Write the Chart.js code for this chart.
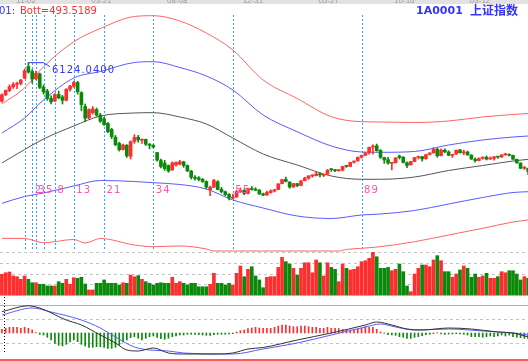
<!DOCTYPE html>
<html><head><meta charset="utf-8">
<script src="https://cdn.jsdelivr.net/npm/chart.js@4.4.1/dist/chart.umd.min.js"></script>
<style>
html,body{margin:0;padding:0;background:#fff;}
#wrap{position:relative;width:528px;height:361px;overflow:hidden;background:#fff;}
#wrap canvas{position:absolute;left:0;}
</style></head>
<body><div id="wrap">
<canvas id="cMain" width="528" height="253" style="top:0"></canvas>
<canvas id="cVol" width="528" height="44" style="top:252px"></canvas>
<canvas id="cMacd" width="528" height="65" style="top:296px"></canvas>
</div>
<script>
// ---------- DATA (weekly bars) ----------
const tickIdx    = [9, 29, 49, 69, 89, 109, 129];
const tickLabels = ['11-02','03-21','08-08','12-31','05-27','10-16','03-12'];

const open = [4870,5080,5220,5340,5420,5450,5620,6000,5840,5600, 5760,5330,5200,4960,4880,5090,5010,4900,5260,5360,
 5480,5150,4700,4330,4500,4600,4420,4300,4150,3950, 3700,3500,3300,3440,3080,3560,3700,3600,3630,3470,
 3430,3200,2940,2860,2780,2640,2800,2830,2900,2780, 2600,2400,2380,2330,2260,1990,2080,2250,2010,1930,
 1840,1720,1760,1930,1970,1870,2030,2000,1980,1860, 1820,1900,1950,2000,2190,2330,2240,2080,2190,2130,
 2290,2370,2440,2450,2510,2460,2500,2660,2640,2610, 2630,2770,2750,2890,2930,3050,3110,3190,3380,3420,
 3270,3040,2970,2850,2870,3090,3050,2870,2800,2910, 3040,3070,3000,3140,3190,3310,3100,3280,3220,3110,
 3150,3290,3190,3220,3120,2980,2940,3020,3050,2990, 3010,3070,3060,3130,3140,3110,2980,2860,2690,2690];
const high = [5110,5240,5400,5480,5490,5580,5920,6124,5900,5850, 5790,5400,5260,5050,5120,5200,5060,5280,5390,5520,
 5520,5180,4780,4620,4700,4650,4480,4350,4180,3990, 3760,3540,3480,3460,3580,3786,3760,3650,3640,3500,
 3470,3210,2990,2950,2800,2900,2900,2950,2920,2800, 2620,2450,2420,2360,2280,2110,2330,2290,2070,1950,
 1870,1850,1980,2050,2000,2050,2100,2060,2000,1880, 1950,1990,2010,2190,2330,2402,2260,2200,2200,2290,
 2400,2450,2480,2580,2540,2490,2650,2680,2660,2650, 2760,2790,2890,2930,3060,3120,3200,3380,3455,3478,
 3300,3050,3050,2870,3040,3120,3070,2900,2915,3040, 3090,3080,3140,3200,3360,3339,3320,3320,3260,3150,
 3280,3300,3280,3250,3130,3030,3020,3060,3090,3060, 3070,3080,3130,3180,3160,3120,2990,2870,2750,2700];
const low = [4840,5050,5180,5290,5280,5400,5600,5780,5460,5560, 5280,5100,4900,4780,4860,4950,4780,4880,5200,5320,
 5100,4560,4200,4300,4450,4380,4180,4080,3850,3650, 3420,3250,3280,3040,2990,3500,3540,3500,3430,3320,
 3350,2920,2700,2620,2560,2620,2760,2800,2720,2580, 2340,2300,2280,2230,2020,1802,2060,1990,1890,1800,
 1664,1700,1740,1900,1830,1860,1980,1960,1840,1800, 1810,1880,1920,1990,2180,2250,2037,2070,2090,2120,
 2280,2330,2400,2440,2410,2420,2490,2590,2580,2600, 2600,2720,2740,2860,2920,3020,3100,3150,3150,3250,
 3010,2850,2820,2640,2860,2990,2860,2710,2800,2900, 2990,2920,2990,3120,3180,3050,3090,3200,3100,3040,
 3140,3180,3130,3110,2980,2890,2930,2980,2960,2980, 2950,3010,3040,3110,3090,2980,2850,2680,2650,2480];
const close = [5080,5220,5340,5420,5450,5560,5860,5820,5590,5780, 5320,5180,4960,4850,5090,4980,4900,5260,5360,5480,
 5180,4760,4320,4600,4620,4420,4220,4110,3880,3720, 3460,3290,3450,3094,3557,3693,3613,3626,3474,3433,
 3379,2957,2748,2680,2600,2860,2880,2900,2780,2605, 2400,2360,2330,2260,2080,2075,2293,2000,1931,1839,
 1728,1747,1930,1970,1871,2030,2001,1977,1855,1820, 1904,1954,1990,2181,2320,2262,2082,2193,2128,2281,
 2374,2444,2450,2508,2477,2480,2626,2644,2614,2632, 2751,2749,2880,2921,3045,3113,3189,3372,3412,3260,
 3046,2960,2860,2861,3026,3040,2880,2779,2911,3040, 3070,2995,3135,3187,3308,3096,3280,3225,3113,3140,
 3277,3196,3224,3128,2990,2939,3018,3051,2988,3013, 3068,3053,3128,3132,3110,2983,2870,2688,2700,2584];

// Bollinger-type bands, read at these bar positions
const bandIdx   = [0,6,11,19,26,35,40,47,54,61,69,78,87,95,100,109,118,127,135,139];
const upperRed  = [4780,5301,5994,6806,7236,7626,7652,7480,7089,6537,5561,4959,4367,4205,4195,4179,4228,4358,4439,4472];
const upperBlue = [3837,4325,4911,5626,5837,6130,6156,5967,5691,5236,4423,3880,3415,3219,3210,3236,3447,3610,3707,3740];
const midLine   = [2862,3300,3642,4065,4390,4488,4498,4358,4130,3675,3154,2797,2439,2332,2332,2406,2618,2780,2927,2982];
const lowerBlue = [1551,1772,1886,2114,2293,2260,2221,2163,2016,1659,1398,1138,1057,1171,1203,1317,1528,1740,1902,1928];
const lowRedIdx = [0,6,11,19,22,26,35,40,47,54,56,70,89,91,95,100,109,118,127,135,139];
const lowerRed  = [413,407,270,374,260,407,195,140,163,65,0,0,0,49,88,140,302,520,738,943,1008];

// Fibonacci time zones
const fibIdx      = [6,8,9,11,14,19,27,40,61,95];
const fibLabelIdx = [8,9,11,14,19,27,40,61,95];
const fibLabels   = ['2','3','5','8','13','21','34','55','89'];
const FIB_TOP = 7675, FIB_LABEL_Y = 1984;

// peak marker
const peakIdx = [7, 11, 12.7];
const peakVal = [6124, 6124, 5994];
const peakText = '6124.0400';

// volume
const vol = [1.93,2.07,2.14,1.77,1.70,1.46,1.77,1.46,1.14,1.14, 1.0,1.0,0.84,0.84,0.84,1.24,1.09,1.46,1.0,1.61,
 1.55,1.65,1.02,0.47,0.47,1.09,1.09,1.4,1.09,1.09, 1.09,0.93,1.14,1.09,1.86,1.7,1.8,1.46,1.24,1.09,
 0.93,1.09,1.14,1.09,1.09,1.65,1.09,1.24,1.09,0.93, 1.09,1.09,0.77,0.77,0.77,1.0,2.02,1.09,1.09,0.93,
 1.09,0.93,2.02,2.7,1.7,2.39,2.63,1.77,1.4,0.68, 1.65,1.71,1.71,2.57,3.5,3.1,2.88,2.48,1.86,2.48,
 3.0,3.0,2.07,3.26,3.0,1.77,3.0,2.57,2.39,1.24, 2.88,2.48,2.33,2.39,2.63,3.1,3.19,3.41,3.97,3.56,
 2.48,2.48,2.57,2.26,2.39,2.88,2.17,0.84,0.31,1.95, 2.48,2.79,2.79,2.63,3.26,3.66,3.19,2.17,2.17,1.65,
 1.95,2.33,2.7,2.48,1.65,1.95,1.65,1.77,2.02,1.55, 1.55,1.71,2.17,2.07,2.26,2.26,1.95,1.4,1.71,1.55];
const volGrid = [1,2,3,4];

// MACD
const hist = [0.37,0.47,0.57,0.57,0.57,0.47,0.57,0.47,0.3,0.03, -0.13,-0.2,-0.43,-0.7,-1.03,-1.23,-1.3,-1.13,-0.9,-0.7,
 -0.87,-1.13,-1.3,-1.43,-1.43,-1.37,-1.37,-1.43,-1.53,-1.53, -1.43,-1.23,-0.9,-0.7,-0.47,-0.37,-0.53,-0.7,-0.53,-0.37,
 -0.3,-0.43,-0.57,-0.63,-0.53,-0.37,-0.3,-0.2,-0.2,-0.13, -0.13,-0.13,-0.17,-0.2,-0.23,-0.23,-0.17,-0.13,-0.13,-0.13,
 -0.1,-0.07,0.1,0.23,0.3,0.43,0.5,0.57,0.5,0.47, 0.47,0.47,0.57,0.7,0.8,0.8,0.7,0.63,0.63,0.7,
 0.7,0.63,0.57,0.57,0.47,0.47,0.57,0.47,0.47,0.43, 0.37,0.3,0.3,0.3,0.37,0.47,0.63,0.57,0.57,0.37,
 0.1,-0.03,-0.17,-0.2,-0.23,-0.37,-0.43,-0.53,-0.53,-0.43, -0.37,-0.27,-0.17,-0.13,-0.07,0.03,-0.1,-0.13,-0.1,-0.1,
 -0.07,-0.1,-0.13,-0.2,-0.37,-0.37,-0.37,-0.43,-0.37,-0.3, -0.37,-0.3,-0.2,-0.3,-0.2,-0.37,-0.43,-0.47,-0.53,-0.6];
const difIdx = [0,7,10,17,21,26,30,33,36,40,44,48,57,61,65,69,78,87,96,99,103,107,111,118,124,131,135,139];
const difVal = [2.13,2.73,2.5,1.3,0.8,-0.2,-1.0,-1.7,-1.8,-1.5,-2.0,-2.1,-2.1,-2.0,-1.6,-1.45,-0.7,0,0.8,1.1,0.8,0.4,0.3,0.5,0.4,0.1,0,-0.4];
const deaIdx = [0,8,13,21,26,30,35,39,44,48,61,69,78,87,96,100,104,109,118,127,135,139];
const deaVal = [1.8,2.5,2.1,1.3,0.5,-0.4,-1.4,-1.7,-1.8,-2.0,-2.1,-1.6,-1.0,-0.2,0.6,0.9,0.6,0.3,0.4,0.2,0,-0.2];
const macdGrid = [1.4, -1.0];
const cursorIdx = 0.55;
const CURSOR_TOP = 3.6, CURSOR_BOTTOM = -2.03;

// ---------- STYLE ----------
const RED = '#ff2e2e', GREEN = '#0a8a0a';
const BAND_RED = '#ff6464', BAND_BLUE = '#5a5aff', MID = '#555555';
const FIB_BLUE = '#3aa0ff', FIB_PINK = '#ff55b0', TXT_BLUE = '#3434ff';
const STEP = 3.786;
const XMIN = -0.5, XMAX = -0.5 + 528 / STEP;
const idx = open.map((_, i) => i);
const upCol = c => (c.dataIndex === undefined ? RED : (close[c.dataIndex] >= open[c.dataIndex] ? RED : GREEN));

function opts(ymin, ymax, pad) {
  return {
    responsive: false, animation: false, events: [],
    layout: { padding: pad },
    plugins: { legend: { display: false }, tooltip: { enabled: false } },
    scales: {
      x: { type: 'linear', min: XMIN, max: XMAX, display: false, offset: false },
      y: { type: 'linear', min: ymin, max: ymax, display: false }
    }
  };
}
function lineDs(ix, vals, color, order, extra) {
  return Object.assign({ type: 'line', data: ix.map((i, k) => ({ x: i, y: vals[k] })),
    borderColor: color, borderWidth: 1, pointRadius: 0, cubicInterpolationMode: 'monotone',
    fill: false, order: order, clip: 3 }, extra || {});
}
function hline(ctx, y, w, color, dash) {
  ctx.save(); ctx.strokeStyle = color; ctx.lineWidth = 1; ctx.setLineDash(dash || []);
  ctx.beginPath(); ctx.moveTo(0, y); ctx.lineTo(w, y); ctx.stroke(); ctx.restore();
}
function vline(ctx, x, y0, y1, color, dash) {
  ctx.save(); ctx.strokeStyle = color; ctx.lineWidth = 1; ctx.setLineDash(dash || []);
  ctx.beginPath(); ctx.moveTo(x, y0); ctx.lineTo(x, y1); ctx.stroke(); ctx.restore();
}

// ---------- MAIN PANEL ----------
const mainDs = [
  { type: 'bar', data: idx.map(i => ({ x: i, y: [low[i], high[i]] })), backgroundColor: upCol,
    barThickness: 1, grouped: false, order: 0, borderWidth: 0 },
  { type: 'bar', data: idx.map(i => ({ x: i, y: [open[i], close[i]] })), backgroundColor: upCol,
    barThickness: 3, minBarLength: 1, grouped: false, order: 0, borderWidth: 0 },
  lineDs(bandIdx, upperRed, BAND_RED, 2),
  lineDs(bandIdx, upperBlue, BAND_BLUE, 2),
  lineDs(bandIdx, midLine, MID, 2),
  lineDs(bandIdx, lowerBlue, BAND_BLUE, 2),
  lineDs(lowRedIdx, lowerRed, BAND_RED, 2),
  lineDs(peakIdx, peakVal, TXT_BLUE, 1, { cubicInterpolationMode: 'default', tension: 0 })
];

const mainText = {
  id: 'mainText',
  beforeDatasetsDraw(chart) {
    const { ctx, scales: { x, y } } = chart;
    const y0 = Math.round(y.getPixelForValue(FIB_TOP)), y1 = Math.round(y.getPixelForValue(0));
    fibIdx.forEach(i => vline(ctx, Math.round(x.getPixelForValue(i)) + 0.5, y0, y1, FIB_BLUE, [2, 2]));
  },
  afterDraw(chart) {
    const { ctx, scales: { x, y } } = chart;
    const W = chart.width;
    ctx.save();
    // top date strip
    ctx.fillStyle = '#e2e2e2'; ctx.fillRect(0, 0, W, 4);
    ctx.font = '8px "Liberation Sans"'; ctx.fillStyle = '#9c9c9c';
    ctx.textAlign = 'right'; ctx.textBaseline = 'alphabetic';
    tickIdx.forEach((t, k) => ctx.fillText(tickLabels[k], x.getPixelForValue(t), 3));
    // header texts
    ctx.textAlign = 'left'; ctx.textBaseline = 'alphabetic';
    ctx.font = '10px "DejaVu Sans"';
    ctx.fillStyle = TXT_BLUE; ctx.fillText('01:', -1, 14);
    ctx.fillStyle = '#ff3030'; ctx.fillText('Bott=493.5189', 20, 14);
    ctx.font = 'bold 11px "DejaVu Sans"'; ctx.fillStyle = TXT_BLUE;
    ctx.fillText('1A0001', 416, 14);
    ctx.font = 'bold 12px "Noto Sans CJK SC"';
    ctx.fillText('上证指数', 470, 14.5);
    // peak label
    ctx.font = '10px "DejaVu Sans"'; ctx.letterSpacing = '1px';
    ctx.fillStyle = TXT_BLUE; ctx.textBaseline = 'middle';
    ctx.fillText(peakText, x.getPixelForValue(peakIdx[2]) + 2, y.getPixelForValue(5870));
    // fib labels
    ctx.fillStyle = FIB_PINK;
    fibLabelIdx.forEach((i, k) => ctx.fillText(fibLabels[k], x.getPixelForValue(i) + 2.5, y.getPixelForValue(FIB_LABEL_Y)));
    ctx.restore();
  }
};
new Chart(document.getElementById('cMain'), {
  type: 'bar', data: { datasets: mainDs },
  options: opts(0, 8000, { top: 5, bottom: 2, left: 0, right: 0 }), plugins: [mainText]
});

// ---------- VOLUME PANEL ----------
const volGridPlugin = {
  id: 'volGrid',
  beforeDatasetsDraw(chart) {
    const { ctx, scales: { y } } = chart;
    volGrid.forEach(v => hline(ctx, Math.round(y.getPixelForValue(v)) + 0.5, chart.width, '#c4c4c4', [3, 3]));
  },
  afterDatasetsDraw(chart) {
    const { ctx, scales: { y } } = chart;
    hline(ctx, Math.round(y.getPixelForValue(0)) + 0.5, chart.width, '#b0b0b0');
  }
};
new Chart(document.getElementById('cVol'), {
  type: 'bar',
  data: { datasets: [{ data: idx.map(i => ({ x: i, y: vol[i] })), backgroundColor: upCol,
    barThickness: 3, borderWidth: 0, grouped: false }] },
  options: opts(0, 4, { top: 0, bottom: 1, left: 0, right: 0 }), plugins: [volGridPlugin]
});

// ---------- MACD PANEL ----------
const macdFrame = {
  id: 'macdFrame',
  beforeDatasetsDraw(chart) {
    const { ctx, chartArea, scales: { y } } = chart;
    hline(ctx, Math.round(chartArea.top) - 0.5, chart.width, '#b0b0b0');
    macdGrid.forEach(v => hline(ctx, Math.round(y.getPixelForValue(v)) + 0.5, chart.width, '#c4c4c4', [3, 3]));
  },
  afterDraw(chart) {
    const { ctx, chartArea, scales: { x, y } } = chart;
    vline(ctx, Math.round(x.getPixelForValue(cursorIdx)) + 0.5,
      Math.round(y.getPixelForValue(CURSOR_TOP)), Math.round(y.getPixelForValue(CURSOR_BOTTOM)), '#000000', [1, 2]);
    ctx.save(); ctx.fillStyle = '#ff5a5a';
    ctx.fillRect(0, Math.round(chartArea.bottom), chart.width, 2); ctx.restore();
  }
};
new Chart(document.getElementById('cMacd'), {
  type: 'bar',
  data: { datasets: [
    { type: 'bar', data: idx.map(i => ({ x: i, y: hist[i] })),
      backgroundColor: c => (c.raw && c.raw.y < 0 ? GREEN : RED),
      barThickness: 1, borderWidth: 0, grouped: false, order: 2 },
    lineDs(difIdx, difVal, '#333333', 1),
    lineDs(deaIdx, deaVal, BAND_BLUE, 1)
  ] },
  options: opts(-2.6, 2.7, { top: 10, bottom: 2, left: 0, right: 0 }), plugins: [macdFrame]
});
</script></body></html>
